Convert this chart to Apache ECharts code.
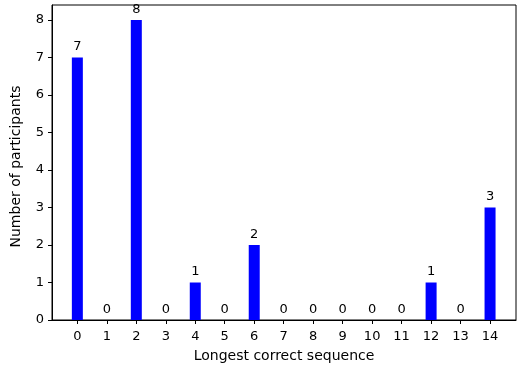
<!DOCTYPE html>
<html>
<head>
<meta charset="utf-8">
<script src="https://cdn.jsdelivr.net/npm/echarts@6/dist/echarts.min.js"></script>
<style>
  html, body { margin: 0; padding: 0; background: #fff; }
  #chart { width: 517px; height: 369px; }
</style>
</head>
<body>
<div id="chart"></div>
<script>
// Longest correct sequence reached by each participant
const sequenceLengths = [0, 1, 2, 3, 4, 5, 6, 7, 8, 9, 10, 11, 12, 13, 14];
const participantCounts = [7, 0, 8, 0, 1, 0, 2, 0, 0, 0, 0, 0, 1, 0, 3];
const yTicks = [0, 1, 2, 3, 4, 5, 6, 7, 8];

const font = 'DejaVu Sans';
const chart = echarts.init(document.getElementById('chart'), null, { renderer: 'canvas' });

chart.setOption({
  animation: false,
  textStyle: { fontFamily: font, color: '#000' },
  grid: {
    left: 52, right: 1, top: 5, bottom: 49,
    show: true, borderColor: '#000', borderWidth: 1, backgroundColor: 'transparent'
  },
  xAxis: {
    type: 'value',
    min: -0.86, max: 14.88,
    name: 'Longest correct sequence',
    nameLocation: 'middle',
    nameGap: 29,
    nameTextStyle: { fontFamily: font, fontSize: 14, color: '#000' },
    axisLine: { onZero: false, lineStyle: { color: '#000', width: 1 } },
    axisTick: { show: true, length: 4, lineStyle: { color: '#000' }, customValues: sequenceLengths },
    axisLabel: { fontFamily: font, fontSize: 13, color: '#000', margin: 10, customValues: sequenceLengths },
    splitLine: { show: false }
  },
  yAxis: {
    type: 'value',
    min: 0, max: 8.4,
    name: 'Number of participants',
    nameLocation: 'middle',
    nameGap: 29,
    nameTextStyle: { fontFamily: font, fontSize: 14, color: '#000', padding: [0, 8, 0, 0] },
    axisLine: { show: true, onZero: false, lineStyle: { color: '#000', width: 1 } },
    axisTick: { show: true, length: 4, lineStyle: { color: '#000' }, customValues: yTicks },
    axisLabel: { fontFamily: font, fontSize: 13, color: '#000', margin: 8, customValues: yTicks },
    splitLine: { show: false }
  },
  series: [{
    type: 'bar',
    data: sequenceLengths.map((x, i) => [x, participantCounts[i]]),
    barWidth: 11,
    itemStyle: { color: '#0000ff' },
    label: {
      show: true, position: 'top', distance: 4,
      fontFamily: font, fontSize: 13, color: '#000',
      formatter: p => String(p.value[1])
    }
  }]
});
</script>
</body>
</html>
